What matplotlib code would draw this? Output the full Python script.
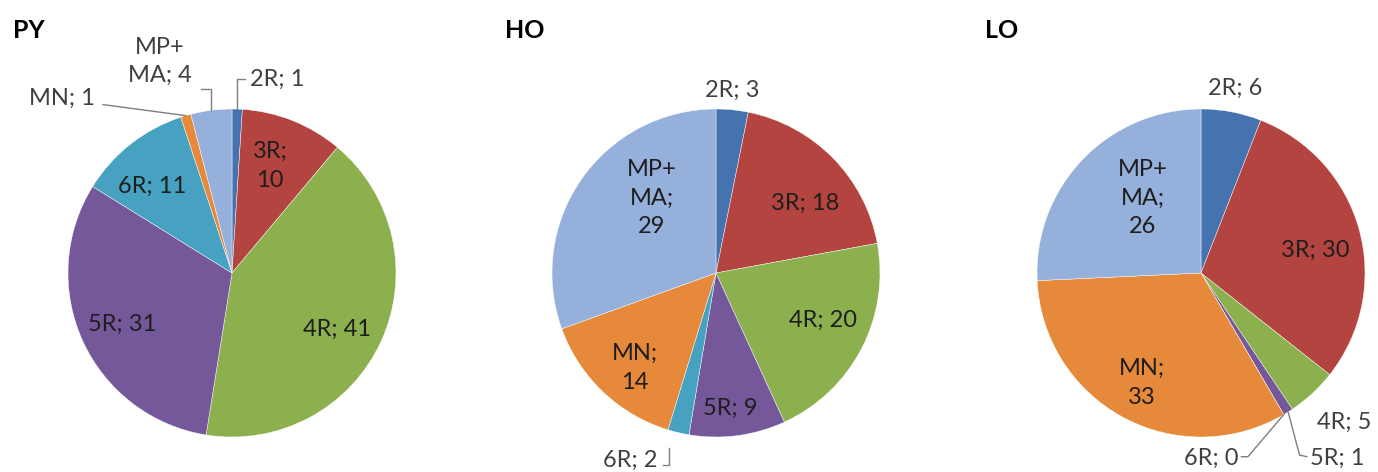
import matplotlib
matplotlib.use('Agg')
import numpy as np
import matplotlib.pyplot as plt

plt.rcParams['font.family'] = ['Lato', 'DejaVu Sans']

# Data (percent of cases per group)
categories = ['2R', '3R', '4R', '5R', '6R', 'MN', 'MP+MA']
py_values = [1, 10, 41, 31, 11, 1, 4]
ho_values = [3, 18, 20, 9, 2, 14, 29]
lo_values = [6, 30, 5, 1, 0, 33, 26]

colors = ['#4573B0', '#B4443F', '#8DB04E', '#74589A', '#46A2C0', '#E6893A', '#95B1DB']

W, H = 1378, 472
R = 164  # pie radius in pixels

# label text per pie (Excel style "name; value")
def label_texts(values):
    out = []
    for c, v in zip(categories, values):
        out.append('%s; %d' % (c, v))
    return out

# label layout: (x, y, ha, wrapped text or None, leader kind)
py_layout = {
    '2R': (0.11, 1.183, 'left', None, 'up'),
    '3R': (0.232, 0.652, 'center', '3R;\n10', None),
    '4R': (0.64, -0.341, 'center', None, None),
    '5R': (-0.671, -0.311, 'center', None, None),
    '6R': (-0.488, 0.53, 'center', None, None),
    'MN': (-1.037, 1.067, 'center', None, 'slant'),
    'MP+MA': (-0.439, 1.29, 'center', 'MP+\nMA; 4', 'upleft'),
}
ho_layout = {
    '2R': (0.098, 1.116, 'center', None, None),
    '3R': (0.543, 0.427, 'center', None, None),
    '4R': (0.652, -0.287, 'center', None, None),
    '5R': (0.085, -0.823, 'center', None, None),
    '6R': (-0.524, -1.14, 'center', None, 'hook'),
    'MN': (-0.494, -0.579, 'center', 'MN;\n14', None),
    'MP+MA': (-0.39, 0.457, 'center', 'MP+\nMA;\n29', None),
}
lo_layout = {
    '2R': (0.207, 1.128, 'center', None, None),
    '3R': (0.695, 0.14, 'center', None, None),
    '4R': (0.872, -0.909, 'center', None, None),
    '5R': (0.665, -1.13, 'left', None, 'downright'),
    '6R': (0.226, -1.13, 'right', None, 'downleft'),
    'MN': (-0.36, -0.671, 'center', 'MN;\n33', None),
    'MP+MA': (-0.354, 0.457, 'center', 'MP+\nMA;\n26', None),
}

charts = [
    ('PY', py_values, py_layout, 232, 13),
    ('HO', ho_values, ho_layout, 716, 505),
    ('LO', lo_values, lo_layout, 1201, 985),
]
cy = 273

fig = plt.figure(figsize=(W / 100, H / 100), dpi=100)

for title, values, layout, cx, title_x in charts:
    ax = fig.add_axes([(cx - R) / W, (H - cy - R) / H, 2 * R / W, 2 * R / H])
    wedges, _ = ax.pie(values, colors=colors, startangle=90, counterclock=False,
                       radius=1, wedgeprops=dict(edgecolor='white', linewidth=0.3))
    ax.set_xlim(-1, 1)
    ax.set_ylim(-1, 1)
    ax.set_aspect('equal')
    ax.axis('off')

    total = float(sum(values))
    cum = np.cumsum([0] + list(values))
    texts = label_texts(values)
    for i, cat in enumerate(categories):
        x, y, ha, txt, leader = layout[cat]
        if txt is None:
            txt = texts[i]
        mid = np.deg2rad(90 - 360 * (cum[i] + cum[i + 1]) / 2 / total)
        ex, ey = np.cos(mid), np.sin(mid)
        outside = leader is not None or np.hypot(x, y) > 1
        col = '#404040' if outside else '#1E1E1E'
        ax.text(x, y, txt, ha=ha, va='center', fontsize=17, color=col,
                linespacing=1.45, clip_on=False)
        lk = dict(color='#7F7F7F', lw=1, clip_on=False)
        if leader == 'up':
            ax.plot([ex, ex, x - 0.03], [ey, y, y], **lk)
        elif leader == 'upleft':
            ax.plot([ex, ex, ex - 0.06], [ey, 1.12, 1.12], **lk)
        elif leader == 'slant':
            ax.plot([x + 0.25, ex], [y - 0.04, ey], **lk)
        elif leader == 'hook':
            ax.plot([x + 0.2, x + 0.24, x + 0.24], [y - 0.03, y - 0.03, y + 0.07], **lk)
        elif leader == 'downright':
            ax.plot([ex, ex + 0.07, x - 0.02], [ey, y + 0.02, y + 0.01], **lk)
        elif leader == 'downleft':
            ax.plot([x + 0.02, x + 0.06, ex], [y + 0.01, y + 0.01, ey], **lk)

    fig.text(title_x / W, 1 - 31 / H, title, ha='left', va='center',
             fontsize=18, fontweight='bold', color='#000000')

fig.savefig('out.png', dpi=100)
plt.close(fig)
